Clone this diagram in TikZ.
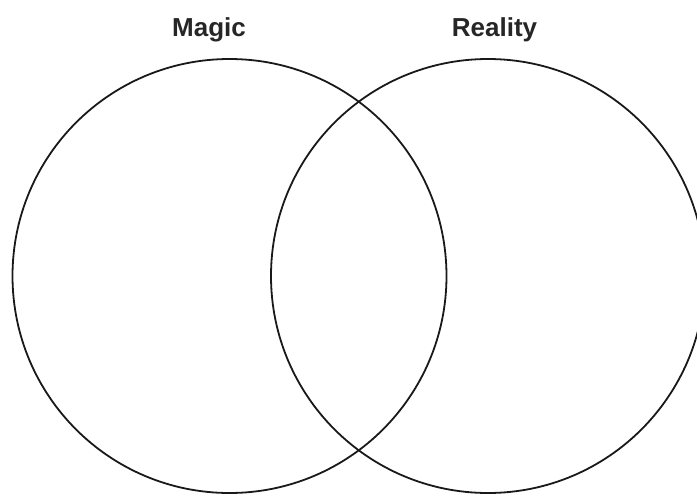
\documentclass[tikz,border=0pt]{standalone}
\usepackage{fontspec}
\setmainfont{Liberation Sans}
\begin{document}
\begin{tikzpicture}[x=1pt,y=-1pt,
  setcircle/.style={draw=black!90, line width=1.8pt, circle, minimum size=434pt, inner sep=0pt},
  settitle/.style={font=\fontsize{26}{30}\selectfont\bfseries, text=black!85, inner sep=0pt, anchor=base}]
\useasboundingbox (0,0) rectangle (697,496);
\begin{scope}
\clip (0,0) rectangle (697,496);
\node[setcircle] (magic) at (229.5,276) {};
\node[setcircle] (reality) at (488,276) {};
\end{scope}
\node[settitle] (magiclabel) at (209,36) {Magic};
\node[settitle] (realitylabel) at (494.5,36) {Reality};
\end{tikzpicture}
\end{document}
